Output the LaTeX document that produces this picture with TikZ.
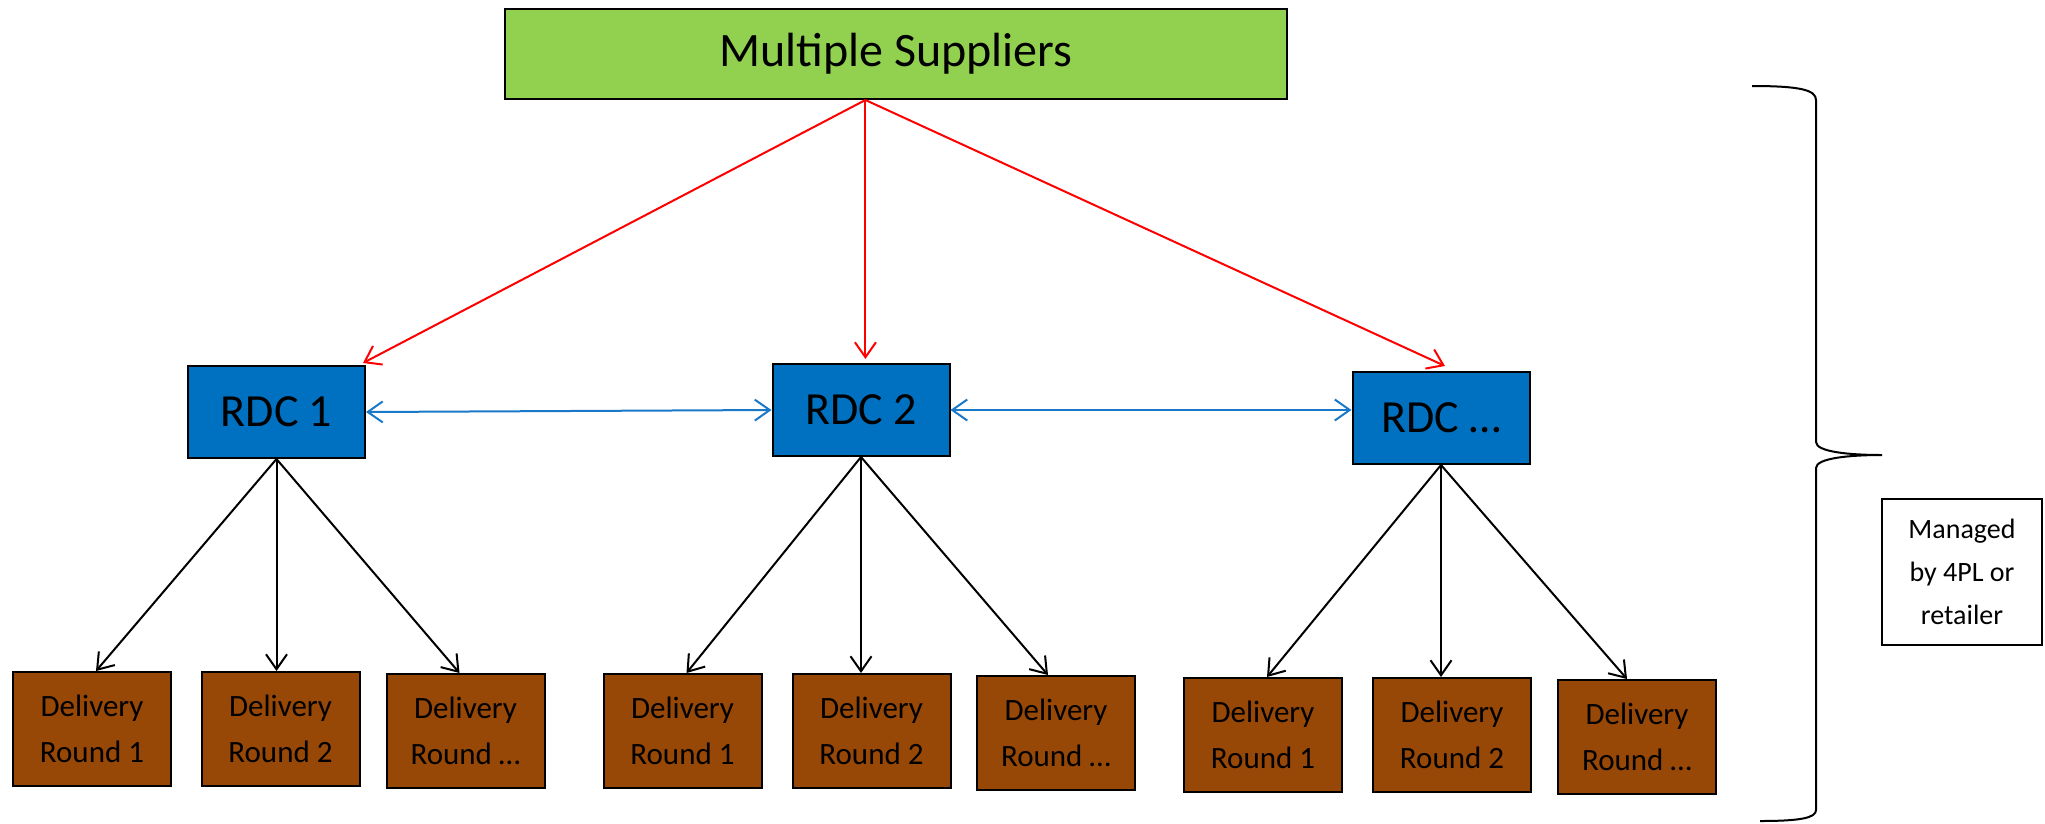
\documentclass[tikz,border=0pt]{standalone}
\usepackage{fontspec}
\setmainfont{Carlito}
\usetikzlibrary{arrows.meta,calc}

\definecolor{supgreen}{HTML}{92D050}
\definecolor{rdcblue}{HTML}{0070C0}
\definecolor{roundbrown}{HTML}{974706}
\definecolor{linkblue}{HTML}{1A78C8}

\tikzset{
  box/.style={draw=black, line width=2pt, inner sep=0pt, align=center},
  supbox/.style={box, fill=supgreen, minimum width=782pt, minimum height=90pt,
    font=\fontsize{48}{57}\selectfont},
  rdcbox/.style={box, fill=rdcblue, minimum width=177pt, minimum height=92pt,
    font=\fontsize{46}{55}\selectfont},
  roundbox/.style={box, fill=roundbrown, minimum width=158pt, minimum height=114pt,
    font=\fontsize{31}{46}\selectfont},
  notebox/.style={draw=black, line width=1.5pt, fill=white, inner sep=0pt, align=center,
    minimum width=160pt, minimum height=146pt, font=\fontsize{28}{43}\selectfont},
  barb/.tip={Straight Barb[length=15pt,width=21pt]},
  feed/.style={draw=red, line width=2pt, -barb},
  link/.style={draw=linkblue, line width=2pt, barb-barb},
  serve/.style={draw=black, line width=2pt, -barb},
  bracket/.style={draw=black, line width=2pt}
}

\begin{document}
\begin{tikzpicture}[x=1pt, y=-1pt]
  \useasboundingbox (0,0) rectangle (2045,823);

  % suppliers
  \node[supbox] (sup) at (896,54) {Multiple Suppliers};

  % regional distribution centres
  \node[rdcbox] (rdc1) at (276.5,412) {RDC 1};
  \node[rdcbox] (rdc2) at (861,410) {RDC 2};
  \node[rdcbox] (rdc3) at (1441,418) {RDC \dots};

  % delivery rounds
  \node[roundbox] (r11) at (92,729)    {Delivery\\Round 1};
  \node[roundbox] (r12) at (280.5,729) {Delivery\\Round 2};
  \node[roundbox] (r13) at (465.5,731) {Delivery\\Round \dots};
  \node[roundbox] (r21) at (682.5,731) {Delivery\\Round 1};
  \node[roundbox] (r22) at (871.5,731) {Delivery\\Round 2};
  \node[roundbox] (r23) at (1056,733)  {Delivery\\Round \dots};
  \node[roundbox] (r31) at (1263,735)  {Delivery\\Round 1};
  \node[roundbox] (r32) at (1452,735)  {Delivery\\Round 2};
  \node[roundbox] (r33) at (1637,737)  {Delivery\\Round \dots};

  % note
  \node[notebox] (note) at (1962,572) {Managed\\by 4PL or\\retailer};

  % supplier flows
  \coordinate (src) at ($(sup.south west)!0.461!(sup.south east)$);
  \draw[feed] (src) -- ([shift={(-3pt,2pt)}]rdc1.north east);
  \draw[feed] (src) -- ([yshift=4pt]src |- rdc2.north);
  \draw[feed] (src) -- ([shift={(4pt,5pt)}]rdc3.north);

  % transfers between RDCs
  \draw[link] (rdc1.east) -- (rdc2.west);
  \draw[link] (rdc2.east) -- (rdc2.east -| rdc3.west);

  % RDC to delivery rounds
  \draw[serve] (rdc1.south) -- ([xshift=4pt]r11.north);
  \draw[serve] (rdc1.south) -- (rdc1.south |- r12.north);
  \draw[serve] (rdc1.south) -- ([xshift=-6pt]r13.north);
  \draw[serve] (rdc2.south) -- ([xshift=4pt]r21.north);
  \draw[serve] (rdc2.south) -- (rdc2.south |- r22.north);
  \draw[serve] (rdc2.south) -- ([xshift=-8pt]r23.north);
  \draw[serve] (rdc3.south) -- ([xshift=4pt]r31.north);
  \draw[serve] (rdc3.south) -- (rdc3.south |- r32.north);
  \draw[serve] (rdc3.south) -- ([xshift=-10pt]r33.north);

  % curly bracket
  \draw[bracket] (1752,86) .. controls (1800,86) and (1816,90) .. (1816,100)
    -- (1816,442) .. controls (1816,452) and (1850,455) .. (1882,455)
    .. controls (1850,455) and (1816,458) .. (1816,468)
    -- (1816,810) .. controls (1816,818) and (1800,821) .. (1760,821);
\end{tikzpicture}
\end{document}
